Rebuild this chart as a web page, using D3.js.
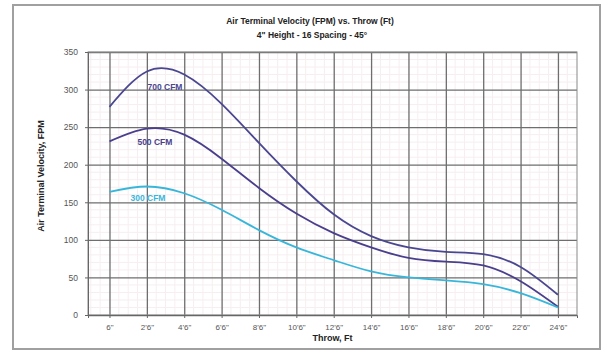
<!DOCTYPE html>
<html>
<head>
<meta charset="utf-8">
<script src="https://cdn.jsdelivr.net/npm/d3@7"></script>
<style>
  html, body { margin: 0; padding: 0; background: #fff; }
  svg { display: block; }
  text { font-family: Arial, "Liberation Sans", sans-serif; }
</style>
</head>
<body>
<svg id="chart" width="613" height="356"></svg>
<script>
// ---- data ----
const titleLines = ["Air Terminal Velocity (FPM) vs. Throw (Ft)", "4\" Height - 16 Spacing - 45\u00B0"];
const xTitle = "Throw, Ft";
const yTitle = "Air Terminal Velocity, FPM";
const xTickValues = [0.5, 2.5, 4.5, 6.5, 8.5, 10.5, 12.5, 14.5, 16.5, 18.5, 20.5, 22.5, 24.5];
const xTickLabels = ["6\"", "2'6\"", "4'6\"", "6'6\"", "8'6\"", "10'6\"", "12'6\"", "14'6\"", "16'6\"", "18'6\"", "20'6\"", "22'6\"", "24'6\""];
const yTickValues = [0, 50, 100, 150, 200, 250, 300, 350];

const throwFt = [0.5, 2.5, 4.5, 6.5, 8.5, 10.5, 12.5, 14.5, 16.5, 18.5, 20.5, 22.5, 24.5];
const cfm700 = [277, 324, 320, 281, 229, 178, 134, 105, 90, 84, 81, 64, 27];
const cfm500 = [231, 248, 240, 208, 169, 135, 109, 90, 76, 71, 66, 45, 11];
const cfm300 = [164, 171, 162, 140, 113, 90, 73, 58, 50, 46, 41, 29, 10];
const seriesNames = ["700 CFM", "500 CFM", "300 CFM"];

// ---- layout ----
const svg = d3.select("#chart");
const pL = 88, pR = 577, pT = 52, pB = 315;
const x = d3.scaleLinear().domain([-0.65, 25.52]).range([pL, pR]);
const y = d3.scaleLinear().domain([0, 350]).range([pB, pT]);

// outer frame
svg.append("rect").attr("x", 13).attr("y", 5).attr("width", 587).attr("height", 344)
  .attr("fill", "#fff").attr("stroke", "#a0a0a0").attr("stroke-width", 2);

// minor grid
const minorY = d3.range(10, 350, 10).filter(v => v % 50 !== 0);
svg.append("g").selectAll("line").data(minorY).join("line")
  .attr("x1", pL).attr("x2", pR).attr("y1", d => y(d)).attr("y2", d => y(d))
  .attr("stroke", "#f6eef0").attr("stroke-width", 1);
const minorX = d3.range(-0.5, 25.5, 0.5).filter(v => !xTickValues.includes(v));
svg.append("g").selectAll("line").data(minorX).join("line")
  .attr("x1", d => x(d)).attr("x2", d => x(d)).attr("y1", pT).attr("y2", pB)
  .attr("stroke", "#f6eef0").attr("stroke-width", 1);

// major grid via axes
const yGrid = d3.axisLeft(y).tickValues(yTickValues).tickSize(-(pR - pL)).tickFormat("");
svg.append("g").attr("transform", `translate(${pL},0)`).call(yGrid)
  .call(g => g.select(".domain").remove())
  .selectAll("line").attr("stroke", "#6e6e6e").attr("stroke-width", 1.3);
const xGrid = d3.axisBottom(x).tickValues(xTickValues).tickSize(-(pB - pT)).tickFormat("");
svg.append("g").attr("transform", `translate(0,${pB})`).call(xGrid)
  .call(g => g.select(".domain").remove())
  .selectAll("line").attr("stroke", "#6e6e6e").attr("stroke-width", 1.3);

// plot border
svg.append("rect").attr("x", pL).attr("y", pT).attr("width", pR - pL).attr("height", pB - pT)
  .attr("fill", "none").attr("stroke", "#8a8a8a").attr("stroke-width", 1);

// y axis
const yAxis = d3.axisLeft(y).tickValues(yTickValues).tickSize(3).tickPadding(7);
svg.append("g").attr("transform", `translate(${pL},0)`).call(yAxis)
  .call(g => g.select(".domain").attr("stroke", "#666"))
  .call(g => g.selectAll("line").attr("stroke", "#666"))
  .call(g => g.selectAll("text").attr("font-size", 8.5).attr("fill", "#555"));

// x axis
const xAxis = d3.axisBottom(x).tickValues(xTickValues).tickSize(3).tickPadding(6)
  .tickFormat((d, i) => xTickLabels[i]);
svg.append("g").attr("transform", `translate(0,${pB})`).call(xAxis)
  .call(g => g.select(".domain").attr("stroke", "#666"))
  .call(g => g.selectAll("line").attr("stroke", "#666"))
  .call(g => g.selectAll("text").attr("font-size", 8).attr("fill", "#555"));

// lines
const colors = ["#4a4790", "#4a3f8c", "#38b6da"];
const allSeries = [cfm700, cfm500, cfm300];
const line = d3.line().x((d, i) => x(throwFt[i])).y(d => y(d)).curve(d3.curveNatural);
allSeries.forEach((s, k) => {
  svg.append("path").datum(s).attr("d", line).attr("fill", "none")
    .attr("stroke", colors[k]).attr("stroke-width", 1.8);
});

// series labels
const labelPos = [[3.47, 303], [2.93, 230], [2.56, 156]];
seriesNames.forEach((n, k) => {
  svg.append("text").attr("x", x(labelPos[k][0])).attr("y", y(labelPos[k][1]))
    .attr("text-anchor", "middle").attr("font-size", 8.5).attr("font-weight", "bold")
    .attr("fill", colors[k]).attr("dy", "0.35em").text(n);
});

// titles
svg.append("text").attr("x", 310).attr("y", 24).attr("text-anchor", "middle")
  .attr("font-size", 8.5).attr("font-weight", "bold").attr("fill", "#222").text(titleLines[0]);
svg.append("text").attr("x", 312).attr("y", 38).attr("text-anchor", "middle")
  .attr("font-size", 8.5).attr("font-weight", "bold").attr("fill", "#222").text(titleLines[1]);
svg.append("text").attr("x", (pL + pR) / 2).attr("y", 341).attr("text-anchor", "middle")
  .attr("font-size", 9).attr("font-weight", "bold").attr("fill", "#222").text(xTitle);
svg.append("text").attr("transform", `translate(44,${176}) rotate(-90)`).attr("text-anchor", "middle")
  .attr("font-size", 9).attr("font-weight", "bold").attr("fill", "#222").text(yTitle);
</script>
</body>
</html>
